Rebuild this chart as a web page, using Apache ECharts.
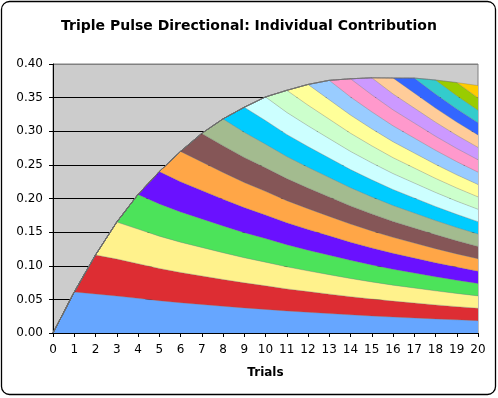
<!DOCTYPE html>
<html>
<head>
<meta charset="utf-8">
<script src="https://cdn.jsdelivr.net/npm/echarts@6/dist/echarts.min.js"></script>
<style>
  html, body { margin: 0; padding: 0; background: #fff; }
  #chart { width: 498px; height: 398px; }
</style>
</head>
<body>
<div id="chart"></div>
<script>
// x axis: trial number
var trials = ['0', '1', '2', '3', '4', '5', '6', '7', '8', '9', '10',
    '11', '12', '13', '14', '15', '16', '17', '18', '19', '20'];

// y axis tick labels
var yTicks = ['0.00', '0.05', '0.10', '0.15', '0.20', '0.25', '0.30', '0.35', '0.40'];

// contribution of each trial, one array per trial
var trial1  = [0, .061, .058, .055, .0515, .048, .045, .0424, .0398, .0373, .0351, .0328, .0308, .0289, .027, .0253, .0237, .0223, .0209, .0196, .0184];
var trial2  = [0, 0, .058, .055, .0515, .048, .045, .0424, .0398, .0373, .0351, .0328, .0308, .0289, .027, .0253, .0237, .0223, .0209, .0196, .0184];
var trial3  = [0, 0, 0, .055, .0515, .048, .045, .0424, .0398, .0373, .0351, .0328, .0308, .0289, .027, .0253, .0237, .0223, .0209, .0196, .0184];
var trial4  = [0, 0, 0, 0, .0515, .048, .045, .0424, .0398, .0373, .0351, .0328, .0308, .0289, .027, .0253, .0237, .0223, .0209, .0196, .0184];
var trial5  = [0, 0, 0, 0, 0, .048, .045, .0424, .0398, .0373, .0351, .0328, .0308, .0289, .027, .0253, .0237, .0223, .0209, .0196, .0184];
var trial6  = [0, 0, 0, 0, 0, 0, .045, .0424, .0398, .0373, .0351, .0328, .0308, .0289, .027, .0253, .0237, .0223, .0209, .0196, .0184];
var trial7  = [0, 0, 0, 0, 0, 0, 0, .0424, .0398, .0373, .0351, .0328, .0308, .0289, .027, .0253, .0237, .0223, .0209, .0196, .0184];
var trial8  = [0, 0, 0, 0, 0, 0, 0, 0, .0398, .0373, .0351, .0328, .0308, .0289, .027, .0253, .0237, .0223, .0209, .0196, .0184];
var trial9  = [0, 0, 0, 0, 0, 0, 0, 0, 0, .0373, .0351, .0328, .0308, .0289, .027, .0253, .0237, .0223, .0209, .0196, .0184];
var trial10 = [0, 0, 0, 0, 0, 0, 0, 0, 0, 0, .0351, .0328, .0308, .0289, .027, .0253, .0237, .0223, .0209, .0196, .0184];
var trial11 = [0, 0, 0, 0, 0, 0, 0, 0, 0, 0, 0, .0328, .0308, .0289, .027, .0253, .0237, .0223, .0209, .0196, .0184];
var trial12 = [0, 0, 0, 0, 0, 0, 0, 0, 0, 0, 0, 0, .0308, .0289, .027, .0253, .0237, .0223, .0209, .0196, .0184];
var trial13 = [0, 0, 0, 0, 0, 0, 0, 0, 0, 0, 0, 0, 0, .0289, .027, .0253, .0237, .0223, .0209, .0196, .0184];
var trial14 = [0, 0, 0, 0, 0, 0, 0, 0, 0, 0, 0, 0, 0, 0, .027, .0253, .0237, .0223, .0209, .0196, .0184];
var trial15 = [0, 0, 0, 0, 0, 0, 0, 0, 0, 0, 0, 0, 0, 0, 0, .0253, .0237, .0223, .0209, .0196, .0184];
var trial16 = [0, 0, 0, 0, 0, 0, 0, 0, 0, 0, 0, 0, 0, 0, 0, 0, .0237, .0223, .0209, .0196, .0184];
var trial17 = [0, 0, 0, 0, 0, 0, 0, 0, 0, 0, 0, 0, 0, 0, 0, 0, 0, .0223, .0209, .0196, .0184];
var trial18 = [0, 0, 0, 0, 0, 0, 0, 0, 0, 0, 0, 0, 0, 0, 0, 0, 0, 0, .0209, .0196, .0184];
var trial19 = [0, 0, 0, 0, 0, 0, 0, 0, 0, 0, 0, 0, 0, 0, 0, 0, 0, 0, 0, .0196, .0184];
var trial20 = [0, 0, 0, 0, 0, 0, 0, 0, 0, 0, 0, 0, 0, 0, 0, 0, 0, 0, 0, 0, .0184];

var trialList = [trial1, trial2, trial3, trial4, trial5, trial6, trial7, trial8, trial9, trial10,
    trial11, trial12, trial13, trial14, trial15, trial16, trial17, trial18, trial19, trial20];

var bandColors = ['#66a6ff', '#dd2d33', '#fff28c', '#4ce35a', '#6a11ff', '#ffa647', '#855657',
    '#a3bb8f', '#00ccff', '#ccffff', '#ccffcc', '#ffff99', '#99ccff', '#ff99cc', '#cc99ff',
    '#ffcc99', '#3366ff', '#33cccc', '#99cc00', '#ffcc00'];

var font = 'DejaVu Sans, Verdana, sans-serif';

var series = [];
for (var i = 0; i < trialList.length; i++) {
    series.push({
        name: 'Trial ' + (i + 1),
        type: 'line',
        stack: 'total',
        symbol: 'none',
        data: trialList[i],
        lineStyle: { color: 'rgba(110,110,110,0.4)', width: 0.8 },
        areaStyle: { color: bandColors[i], opacity: 1 },
        animation: false
    });
}

// gridline colours, top one matches the plot border
var splitColors = ['#000', '#000', '#000', '#000', '#000', '#000', '#000', '#000', '#808080'];

var myChart = echarts.init(document.getElementById('chart'));
var option = {
    backgroundColor: '#fff',
    animation: false,
    title: {
        text: 'Triple Pulse Directional: Individual Contribution',
        left: 'center',
        top: 14,
        textStyle: { fontFamily: font, fontWeight: 'bold', fontSize: 14, color: '#000' }
    },
    graphic: [{
        type: 'rect',
        shape: { x: 1.5, y: 1.5, width: 494, height: 393, r: 8 },
        style: { fill: null, stroke: '#000', lineWidth: 1.3 },
        z: 100
    }],
    grid: {
        left: 53,
        right: 20,
        top: 64,
        bottom: 65,
        show: true,
        backgroundColor: '#cccccc',
        borderColor: '#808080',
        borderWidth: 1
    },
    xAxis: {
        type: 'category',
        data: trials,
        boundaryGap: false,
        name: 'Trials',
        nameLocation: 'middle',
        nameGap: 34,
        nameTextStyle: { fontFamily: font, fontWeight: 'bold', fontSize: 12, color: '#000' },
        axisLine: { lineStyle: { color: '#000', width: 1 } },
        axisTick: { show: true, length: 4, inside: false, lineStyle: { color: '#000' } },
        axisLabel: { fontFamily: font, fontSize: 12, color: '#000', margin: 11, interval: 0 },
        splitLine: { show: false }
    },
    yAxis: {
        type: 'value',
        min: 0,
        max: 0.4,
        interval: 0.05,
        axisLine: { show: true, lineStyle: { color: '#000', width: 1 } },
        axisTick: { show: true, length: 4, lineStyle: { color: '#000' } },
        axisLabel: {
            fontFamily: font, fontSize: 12, color: '#000', margin: 10,
            formatter: function(value) {
                return yTicks[Math.round(value / 0.05)];
            }
        },
        splitLine: { show: true, lineStyle: { color: splitColors, width: 1 } }
    },
    series: series
};
myChart.setOption(option);
</script>
</body>
</html>
